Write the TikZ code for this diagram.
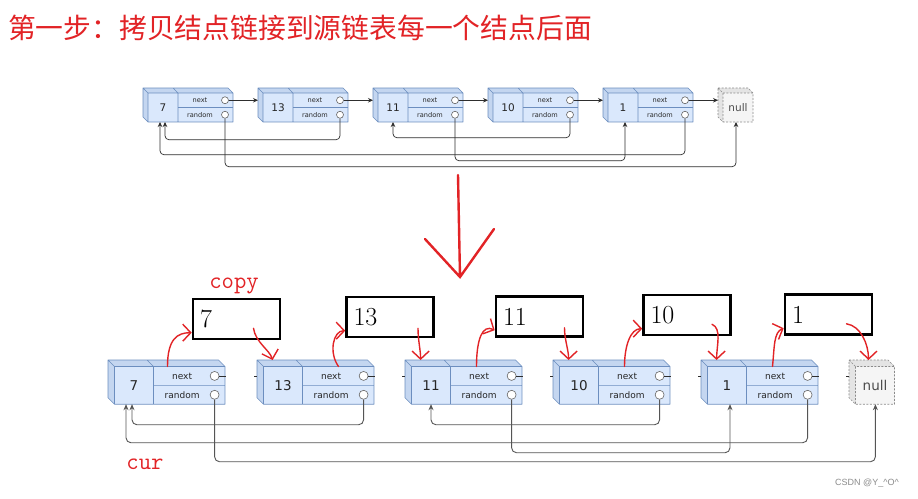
\documentclass[tikz,border=0pt]{standalone}
\usepackage{fontspec}
\usepackage{tikz}
\usetikzlibrary{arrows.meta, calc}
\newfontfamily\cjkfont{Noto Sans CJK SC}
\newfontfamily\nodefont{DejaVu Sans}
\newfontfamily\markfont{Liberation Sans}
\definecolor{cRed}{RGB}{226,35,38}
\definecolor{cNodeFill}{HTML}{DAE8FC}
\definecolor{cNodeSide}{HTML}{C4D6F0}
\definecolor{cNodeLine}{HTML}{6C8EBF}
\definecolor{cNullFill}{HTML}{F5F5F5}
\definecolor{cNullSide}{HTML}{E4E4E4}
\definecolor{cNullLine}{HTML}{8A8A8A}
\definecolor{cPort}{HTML}{666666}
\definecolor{cLine}{HTML}{2E2E2E}
\definecolor{cGray}{HTML}{555555}
\tikzset{
	cubefront/.style={fill=cNodeFill},
	cubeside/.style ={fill=cNodeSide},
	cubeline/.style ={draw=cNodeLine, line width=0.6pt, line join=round},
	nullfront/.style={fill=cNullFill},
	nullside/.style ={fill=cNullSide},
	nullline/.style ={draw=cNullLine, line width=0.6pt, dashed, dash pattern=on 2pt off 1.5pt},
	% list sizes
	small list/.style={scale=1,
		valfont/.style={font=\nodefont\fontsize{10.5}{12}\selectfont, text=black!85},
		fldfont/.style={font=\nodefont\fontsize{6.6}{8}\selectfont, text=black!85},
		nullfont/.style={font=\nodefont\fontsize{10.5}{12}\selectfont, text=black!70},
		port/.style={circle, draw=cPort, line width=0.6pt, fill=white, inner sep=0pt, minimum size=7pt}},
	big list/.style={scale=1.3,
		valfont/.style={font=\nodefont\fontsize{13.5}{15}\selectfont, text=black!85},
		fldfont/.style={font=\nodefont\fontsize{9}{10}\selectfont, text=black!85},
		nullfont/.style={font=\nodefont\fontsize{13.5}{15}\selectfont, text=black!70},
		port/.style={circle, draw=cPort, line width=0.6pt, fill=white, inner sep=0pt, minimum size=9pt}},
	% connectors
	nxt/.style   ={draw=cLine, line width=0.7pt, -{Stealth[length=5pt, width=4.5pt]}},
	rnd/.style   ={draw=cLine, line width=0.7pt, rounded corners=4pt, -{Stealth[length=5pt, width=4.5pt]}},
	nxtb/.style  ={draw=cLine, line width=0.8pt},
	rndb/.style  ={draw=cGray, line width=0.9pt, rounded corners=5pt, -{Stealth[length=6pt, width=5pt]}},
	% hand marks
	copybox/.style={rectangle, draw=black, line width=2.6pt, fill=white, minimum height=40pt, text width=73pt, inner xsep=7pt, inner ysep=0pt, align=left, font=\fontsize{26}{26}\selectfont},
	redarr/.style ={draw=cRed, line width=1.4pt, line cap=round, -{Straight Barb[length=8pt, width=17pt]}},
	bigred/.style ={draw=cRed, line width=2.4pt, line cap=round},
	redtxt/.style ={text=cRed, font=\ttfamily\fontsize{24}{24}\selectfont},
	title/.style  ={text=cRed, font=\cjkfont\fontsize{27.8}{30}\selectfont, anchor=west, inner sep=0pt},
	wmark/.style  ={text=black!45, font=\markfont\fontsize{9}{10}\selectfont},
}
% name, size style, position, value
\newcommand{\listnode}[4]{%
	\begin{scope}[shift={#3}, #2]
		\path[cubeside] (0,0) -- (85,0) -- (90,5) -- (5,5) -- cycle (0,0) -- (5,5) -- (5,34) -- (0,29) -- cycle;
		\path[cubefront] (5,5) rectangle (90,34);
		\draw[cubeline] (0,0) -- (85,0) -- (90,5) -- (90,34) -- (5,34) -- (0,29) -- cycle
			(0,0) -- (5,5) -- (90,5) (5,5) -- (5,34) (30,0) -- (35,5) -- (35,34) (35,19.5) -- (90,19.5);
		\node[valfont] (#1) at (20,19.5) {#4};
		\node[fldfont] at (57,12.25) {next};
		\node[fldfont] at (57,26.75) {random};
		\node[port] (#1-nx) at (82,12.25) {};
		\node[port] (#1-rd) at (82,26.75) {};
		\coordinate (#1-w) at (0,12.25);
		\coordinate (#1-e) at (91,12.25);
		\coordinate (#1-b) at (20,34);
		\coordinate (#1-t) at (55,5);
		\coordinate (#1-in) at (12,0);
	\end{scope}}
% name, size style, position
\newcommand{\nullnode}[3]{%
	\begin{scope}[shift={#3}, #2]
		\path[nullside] (0,0) -- (30,0) -- (35,5) -- (5,5) -- cycle (0,0) -- (5,5) -- (5,34) -- (0,29) -- cycle;
		\path[nullfront] (5,5) rectangle (35,34);
		\draw[nullline] (0,0) -- (30,0) -- (35,5) -- (35,34) -- (5,34) -- (0,29) -- cycle
			(0,0) -- (5,5) -- (35,5) (5,5) -- (5,34);
		\node[nullfont] (#1) at (20,19.5) {null};
		\coordinate (#1-w) at (0,12.25);
		\coordinate (#1-b) at (18,34);
		\coordinate (#1-in) at (15,0);
	\end{scope}}

\begin{document}
\begin{tikzpicture}[x=1pt, y=-1pt]
	\useasboundingbox[fill=white] (0,0) rectangle (918,498);
	\node[title] (ttl) at (8,28) {第一步：拷贝结点链接到源链表每一个结点后面};

	% original list
	\listnode{a7}{small list}{(143,88)}{7}
	\listnode{a13}{small list}{(258,88)}{13}
	\listnode{a11}{small list}{(373,88)}{11}
	\listnode{a10}{small list}{(488,88)}{10}
	\listnode{a1}{small list}{(603,88)}{1}
	\nullnode{anull}{small list}{(718,88)}
	\draw[nxt] (a7-nx) -- (a13-w);
	\draw[nxt] (a13-nx) -- (a11-w);
	\draw[nxt] (a11-nx) -- (a10-w);
	\draw[nxt] (a10-nx) -- (a1-w);
	\draw[nxt] (a1-nx) -- (anull-w);
	\draw[rnd] (a13-rd) -- ++(0,25) -| ([xshift=2pt]a7-b);
	\draw[rnd] (a1-rd) -- ++(0,40) -| ([xshift=-3pt]a7-b);
	\draw[rnd] (a10-rd) -- ++(0,23) -| (a11-b);
	\draw[rnd] (a11-rd) -- ++(0,46) -| ([xshift=2pt]a1-b);
	\draw[rnd] (a7-rd) -- ++(0,52) -| (anull-b);

	% big arrow
	\coordinate (dn-top) at (458,175);
	\coordinate (dn-tip) at (460,277);
	\draw[bigred] (dn-top) -- (dn-tip) ([shift={(-35,-38)}]dn-tip) -- (dn-tip) -- ([shift={(34,-48)}]dn-tip);

	% list with copies
	\listnode{b7}{big list}{(108,360)}{7}
	\listnode{b13}{big list}{(257,360)}{13}
	\listnode{b11}{big list}{(405,360)}{11}
	\listnode{b10}{big list}{(553,360)}{10}
	\listnode{b1}{big list}{(701,360)}{1}
	\nullnode{bnull}{big list}{(849,360)}
	\foreach \n/\m in {b7/b13, b13/b11, b11/b10, b10/b1, b1/bnull} {
		\draw[nxtb] (\n-nx) -- (\n-e);
		\draw[nxtb] ([xshift=-3pt]\m-w) -- (\m-w);
	}
	\draw[rndb] (b13-rd) -- ++(0,30) -| ([xshift=-2pt]b7-b);
	\draw[rndb] (b1-rd) -- ++(0,48) -| ([xshift=-8pt]b7-b);
	\draw[rndb] (b10-rd) -- ++(0,30) -| (b11-b);
	\draw[rndb] (b11-rd) -- ++(0,58) -| ([xshift=3pt]b1-b);
	\draw[rndb] (b7-rd) -- ++(0,67) -| ([xshift=3pt]bnull-b);

	\node[copybox] (c7) at (236.5,319) {7};
	\node[copybox] (c13) at (390,317) {13};
	\node[copybox] (c11) at (539.5,316.5) {11};
	\node[copybox] (c10) at (687,315) {10};
	\node[copybox] (c1) at (828.5,314.5) {1};
	\node[redtxt] (cp) at (234,286) {copy};
	\node[redtxt] (cr) at (145,464) {cur};

	\draw[redarr] ([xshift=-12pt]b7-t) .. controls +(0,-28) and +(-14,0) .. (c7.197);
	\draw[redarr] ([xshift=10pt]b13-t) .. controls +(-10,-14) and +(-12,0) .. (c13.197);
	\draw[redarr] (b11-t) .. controls +(0,-28) and +(-12,-6) .. (c11.197);
	\draw[redarr] (b10-t) .. controls +(0,-20) and +(-12,0) .. (c10.197);
	\draw[redarr] (b1-t) .. controls +(2,-20) and +(-10,4) .. (c1.197);
	\draw[redarr] ([xshift=17pt,yshift=12pt]c7.south) .. controls +(2,14) and +(-3,-10) .. (b13-in);
	\draw[redarr] ([xshift=28pt,yshift=10pt]c13.south) .. controls +(0,12) and +(0,-10) .. (b11-in);
	\draw[redarr] ([xshift=25pt,yshift=10pt]c11.south) .. controls +(0,12) and +(0,-10) .. (b10-in);
	\draw[redarr] ([xshift=25pt,yshift=12pt]c10.south) .. controls +(10,4) and +(0,-14) .. (b1-in);
	\draw[redarr] ([xshift=18pt,yshift=12pt]c1.south) .. controls +(14,2) and +(0,-16) .. (bnull-in);

	\node[wmark] (wm) at (867,483) {CSDN @Y\_\textasciicircum O\textasciicircum};
\end{tikzpicture}
\end{document}
